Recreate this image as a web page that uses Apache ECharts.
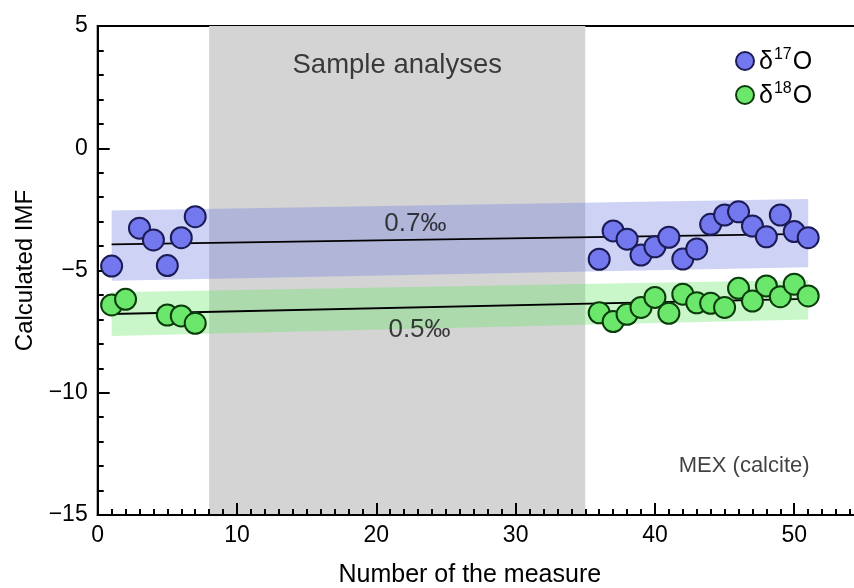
<!DOCTYPE html>
<html>
<head>
<meta charset="utf-8">
<script src="https://cdn.jsdelivr.net/npm/echarts@6/dist/echarts.min.js"></script>
<style>html,body{margin:0;padding:0;background:#fff}#c{width:854px;height:588px}</style>
</head>
<body>
<div id="c"></div>
<script>
// ---- data ----
const d17X = [1,3,4,5,6,7,36,37,38,39,40,41,42,43,44,45,46,47,48,49,50,51];
const d17Y = [-4.82,-3.27,-3.75,-4.80,-3.66,-2.80,-4.54,-3.38,-3.72,-4.37,-4.03,-3.64,-4.53,-4.12,-3.11,-2.73,-2.60,-3.18,-3.62,-2.73,-3.41,-3.66];
const d18X = [1,2,5,6,7,36,37,38,39,40,41,42,43,44,45,46,47,48,49,50,51];
const d18Y = [-6.41,-6.18,-6.82,-6.86,-7.16,-6.73,-7.09,-6.79,-6.51,-6.10,-6.75,-5.97,-6.32,-6.34,-6.51,-5.73,-6.25,-5.63,-6.07,-5.56,-6.04];
const fitX = [1, 51];
const d17Fit = [-3.93, -3.50];
const d18Fit = [-6.78, -6.16];
const d17BandUpper = [-2.55, -2.08];
const d17BandLower = [-5.42, -4.87];
const d18BandUpper = [-5.89, -5.39];
const d18BandLower = [-7.68, -7.00];
const shadedRange = [8, 35];
const xTicks = [0, 10, 20, 30, 40, 50];
const yTicks = [5, 0, -5, -10, -15];
const annoText = ['Sample analyses', '0.7‰', '0.5‰'];
const annoX = [21.5, 22.8, 23.1];
const annoY = [3.4, -3.1, -7.43];
const noteText = 'MEX (calcite)';
const noteX = 51.1;
const noteY = -13.0;

// ---- chart ----
const FONT = 'Liberation Sans';
const chart = echarts.init(document.getElementById('c'), null, {renderer: 'canvas'});
const zip = (a, b) => a.map((v, i) => [v, b[i]]);
const minus = v => String(v).replace('-', '\u2212');

function bandSeries(upper, lower, color) {
  return {
    type: 'custom', z: 1, silent: true,
    data: [[fitX[0], upper[0], lower[0], fitX[1], upper[1], lower[1]]],
    encode: {x: [0, 3], y: [1, 2, 4, 5]},
    renderItem: function (params, api) {
      const p1 = api.coord([api.value(0), api.value(1)]);
      const p2 = api.coord([api.value(3), api.value(4)]);
      const p3 = api.coord([api.value(3), api.value(5)]);
      const p4 = api.coord([api.value(0), api.value(2)]);
      return {type: 'polygon', shape: {points: [p1, p2, p3, p4]}, style: {fill: color}};
    }
  };
}

const option = {
  animation: false,
  backgroundColor: '#ffffff',
  textStyle: {fontFamily: FONT},
  grid: {left: 97.7, top: 26, width: 766.2, height: 489, outerBoundsMode: 'none', containLabel: false,
    show: true, borderColor: '#000', borderWidth: 2, backgroundColor: 'transparent'},
  xAxis: {
    type: 'value', min: 0, max: 55, interval: 10,
    name: 'Number of the measure', nameLocation: 'middle', nameGap: 48,
    nameTextStyle: {fontFamily: FONT, fontSize: 25, color: '#000', padding: [0, 22, 0, 0]},
    axisLine: {show: true, onZero: false, lineStyle: {color: '#000', width: 2}},
    axisTick: {show: true, inside: true, length: 12, lineStyle: {color: '#000', width: 2}},
    minorTick: {show: true, splitNumber: 10, length: 6, lineStyle: {color: '#000', width: 2}},
    splitLine: {show: false},
    axisLabel: {fontFamily: FONT, fontSize: 23, color: '#000', margin: 9,
      formatter: v => xTicks.indexOf(v) >= 0 ? String(v) : ''}
  },
  yAxis: {
    type: 'value', min: -15, max: 5, interval: 5,
    name: 'Calculated IMF', nameLocation: 'middle', nameGap: 53, nameRotate: 90,
    nameTextStyle: {fontFamily: FONT, fontSize: 24, color: '#000'},
    axisLine: {show: true, onZero: false, lineStyle: {color: '#000', width: 2}},
    axisTick: {show: true, inside: true, length: 12, lineStyle: {color: '#000', width: 2}},
    minorTick: {show: true, splitNumber: 5, length: 6, lineStyle: {color: '#000', width: 2}},
    splitLine: {show: false},
    axisLabel: {fontFamily: FONT, fontSize: 23, color: '#000', margin: 10,
      formatter: v => yTicks.indexOf(v) >= 0 ? minus(v) : ''}
  },
  legend: {
    orient: 'vertical', left: 730, top: 42, itemGap: 6,
    itemWidth: 18, itemHeight: 18, icon: 'circle',
    data: [
      {name: 'd17', itemStyle: {color: '#7478ee', borderColor: '#1b1b55', borderWidth: 2}},
      {name: 'd18', itemStyle: {color: '#6be86b', borderColor: '#0b3b0b', borderWidth: 2}}
    ],
    formatter: n => n === 'd17' ? '{a|δ}{s|17}{a|O}' : '{a|δ}{s|18}{a|O}',
    textStyle: {
      rich: {
        a: {fontFamily: FONT, fontSize: 25, color: '#000', verticalAlign: 'bottom', lineHeight: 28},
        s: {fontFamily: FONT, fontSize: 16, color: '#000', verticalAlign: 'top', lineHeight: 28, padding: [0, 1, 11, 1]}
      }
    }
  },
  series: [
    {
      type: 'custom', z: 0, silent: true,
      data: [[shadedRange[0], shadedRange[1]]],
      encode: {x: [0, 1]},
      renderItem: function (params, api) {
        const a = api.coord([api.value(0), 5]);
        const b = api.coord([api.value(1), -15]);
        return {type: 'rect', shape: {x: a[0], y: a[1], width: b[0] - a[0], height: b[1] - a[1]}, style: {fill: '#d4d4d4'}};
      }
    },
    bandSeries(d17BandUpper, d17BandLower, 'rgba(110,125,228,0.34)'),
    bandSeries(d18BandUpper, d18BandLower, 'rgba(100,232,100,0.34)'),
    {type: 'line', z: 2, data: zip(fitX, d17Fit), symbol: 'none', silent: true, lineStyle: {color: '#000', width: 1.8}},
    {type: 'line', z: 2, data: zip(fitX, d18Fit), symbol: 'none', silent: true, lineStyle: {color: '#000', width: 1.8}},
    {name: 'd17', type: 'scatter', z: 3, data: zip(d17X, d17Y), symbol: 'circle', symbolSize: 21,
      itemStyle: {color: '#7478ee', borderColor: '#1b1b55', borderWidth: 2, opacity: 1}},
    {name: 'd18', type: 'scatter', z: 3, data: zip(d18X, d18Y), symbol: 'circle', symbolSize: 21,
      itemStyle: {color: '#6be86b', borderColor: '#0b3b0b', borderWidth: 2, opacity: 1}},
    {
      type: 'scatter', z: 4, silent: true, symbolSize: 0,
      data: annoText.map((t, i) => ({name: t, value: [annoX[i], annoY[i]]})),
      label: {show: true, position: 'inside', formatter: p => p.name,
        fontFamily: FONT, fontSize: 26, color: '#111',
        rich: {}},
    },
    {
      type: 'scatter', z: 4, silent: true, symbolSize: 0,
      data: [{name: noteText, value: [noteX, noteY]}],
      label: {show: true, position: 'left', distance: 0, formatter: p => p.name,
        fontFamily: FONT, fontSize: 22, color: '#111'}
    }
  ]
};
option.series[7].data[0].label = {fontSize: 27.5};
chart.setOption(option);
</script>
</body>
</html>
